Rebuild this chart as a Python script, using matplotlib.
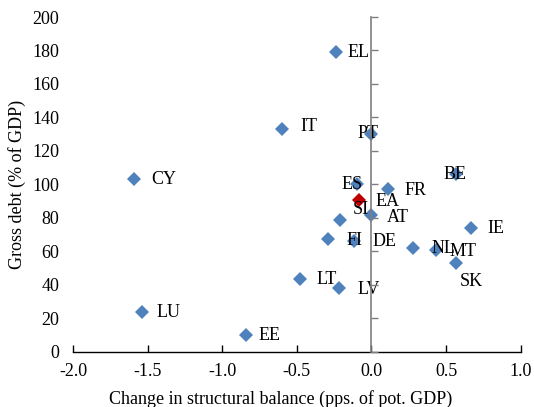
import matplotlib
matplotlib.use('Agg')
import matplotlib.pyplot as plt

# データ（構造収支の変化 vs 政府債務）
countries = ['EL', 'IT', 'PT', 'BE', 'ES', 'FR', 'CY', 'SI', 'AT', 'IE',
             'FI', 'DE', 'NL', 'MT', 'SK', 'LT', 'LV', 'LU', 'EE']
struct_change = [-0.24, -0.60, 0.00, 0.57, -0.10, 0.11, -1.59, -0.21, 0.00, 0.67,
                 -0.29, -0.12, 0.28, 0.43, 0.57, -0.48, -0.22, -1.54, -0.84]
gross_debt = [179, 133, 130, 106, 100, 97, 103, 78.5, 81.5, 74,
              67.5, 66, 62, 60.5, 53, 43.5, 38, 23.5, 10]

ea_label = 'EA'
ea_change = -0.08
ea_debt = 90.5

x_ticks = [-2.0, -1.5, -1.0, -0.5, 0.0, 0.5, 1.0]
y_ticks = [0, 20, 40, 60, 80, 100, 120, 140, 160, 180, 200]

# ラベル位置の調整（ピクセル）
label_offsets = {
    'EL': (12, 0), 'IT': (18, 3), 'PT': (-14, 1), 'BE': (-13, 0),
    'ES': (-15, 0), 'FR': (17, -1), 'CY': (17, 0), 'SI': (13, 11),
    'AT': (15, -2), 'IE': (16, -1), 'FI': (18, -2), 'DE': (19, 0),
    'NL': (18, -1), 'MT': (14, -1), 'SK': (3, -19), 'LT': (17, -1),
    'LV': (19, -1), 'LU': (15, 0), 'EE': (12, -1), 'EA': (16, -1),
}

plt.rcParams['font.family'] = ['Liberation Serif', 'DejaVu Serif']
plt.rcParams['font.size'] = 13

blue = '#4F81BD'
red = '#C00000'

fig = plt.figure(figsize=(5.34, 4.07), dpi=100)
ax = fig.add_axes([0.1367, 0.1359, 0.8383, 0.8223])

ax.plot(struct_change, gross_debt, linestyle='none', marker='D',
        markersize=7, color=blue, markeredgewidth=0)
ax.plot([ea_change], [ea_debt], linestyle='none', marker='D',
        markersize=7, color=red, markeredgewidth=0)

for name, x, y in zip(countries, struct_change, gross_debt):
    ax.annotate(name, (x, y), xytext=label_offsets[name], textcoords='offset pixels',
                ha='left', va='center')
ax.annotate(ea_label, (ea_change, ea_debt), xytext=label_offsets[ea_label],
            textcoords='offset pixels', ha='left', va='center')

ax.set_xlim(-2.0, 1.0)
ax.set_ylim(0, 200)
ax.set_xticks(x_ticks)
ax.set_xticklabels([f'{t:.1f}' for t in x_ticks])
ax.set_yticks(y_ticks)

for side in ['top', 'right', 'left']:
    ax.spines[side].set_visible(False)
ax.spines['bottom'].set_color('black')
ax.spines['bottom'].set_linewidth(1.0)
ax.tick_params(axis='x', direction='in', length=5, width=1, pad=8)
ax.tick_params(axis='y', length=0, pad=10)

ax.set_xlabel('Change in structural balance (pps. of pot. GDP)')
ax.xaxis.set_label_coords(0.463, -0.115)
ax.set_ylabel('Gross debt (% of GDP)')
ax.yaxis.set_label_coords(-0.105, 0.5)

# x=0 の縦軸（目盛りのみ）
ax2 = ax.twinx()
ax2.set_ylim(ax.get_ylim())
ax2.set_yticks(y_ticks)
ax2.set_yticklabels([])
for side in ['top', 'left', 'bottom']:
    ax2.spines[side].set_visible(False)
ax2.spines['right'].set_position(('data', 0))
ax2.spines['right'].set_color('#7F7F7F')
ax2.spines['right'].set_linewidth(1.2)
ax2.tick_params(axis='y', direction='out', length=5, width=1, color='#7F7F7F')

fig.savefig('out.png', dpi=100)
